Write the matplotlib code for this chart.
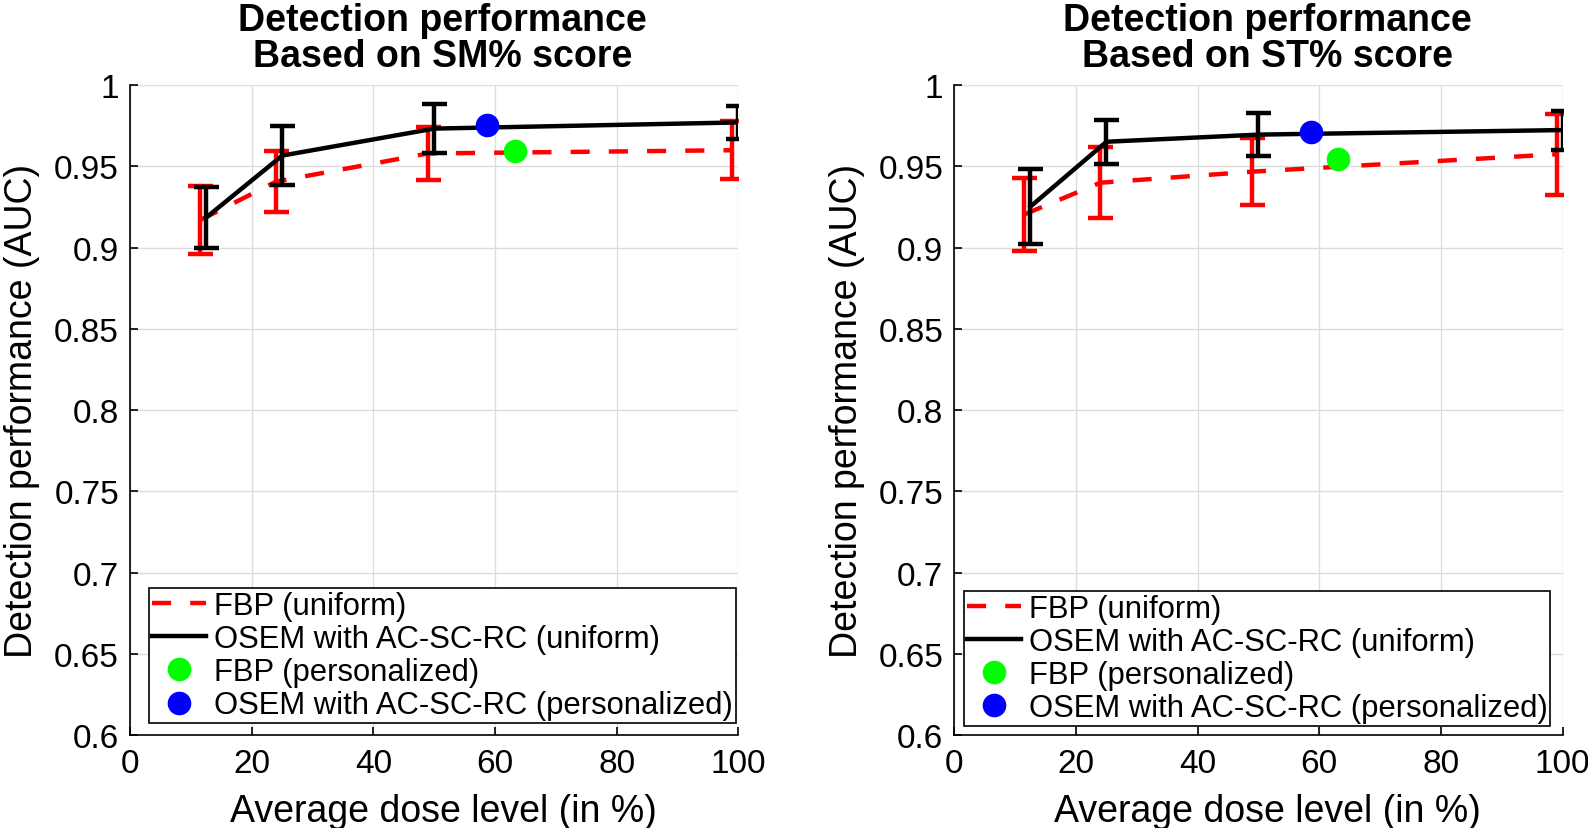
import numpy as np
import matplotlib
matplotlib.use("Agg")
import matplotlib.pyplot as plt
from matplotlib.lines import Line2D

plt.rcParams['font.family'] = ['Liberation Sans', 'DejaVu Sans']

# dose levels (red slightly shifted left, like the original)
x_fbp = [11.5, 24, 49, 99]
x_osem = [12.5, 25, 50, 100]

# left panel: SM% score
sm_fbp = [0.917, 0.9407, 0.958, 0.960]
sm_fbp_err = [0.021, 0.019, 0.0165, 0.018]
sm_osem = [0.9186, 0.9567, 0.9733, 0.9771]
sm_osem_err = [0.019, 0.018, 0.015, 0.010]
sm_pers_fbp = (63.2, 0.9598)
sm_pers_osem = (58.7, 0.9755)

# right panel: ST% score
st_fbp = [0.9205, 0.940, 0.9468, 0.9575]
st_fbp_err = [0.0225, 0.0218, 0.0207, 0.025]
st_osem = [0.9253, 0.9652, 0.9696, 0.9724]
st_osem_err = [0.023, 0.0136, 0.013, 0.012]
st_pers_fbp = (63.1, 0.9547)
st_pers_osem = (58.7, 0.9714)

titles = ["Detection performance\nBased on SM% score",
          "Detection performance\nBased on ST% score"]
labels = ["FBP (uniform)", "OSEM with AC-SC-RC (uniform)",
          "FBP (personalized)", "OSEM with AC-SC-RC (personalized)"]

fig = plt.figure(figsize=(15.88, 8.29), dpi=100)
ax1 = fig.add_axes([0.082, 0.112, 0.383, 0.784])
ax2 = fig.add_axes([0.601, 0.112, 0.383, 0.784])

panels = [(ax1, sm_fbp, sm_fbp_err, sm_osem, sm_osem_err, sm_pers_fbp, sm_pers_osem, titles[0], 0.031, 0.018),
          (ax2, st_fbp, st_fbp_err, st_osem, st_osem_err, st_pers_fbp, st_pers_osem, titles[1], 0.015, 0.014)]

for ax, fbp, fbp_e, osem, osem_e, pf, po, title, lx, ly in panels:
    ax.errorbar(x_fbp, fbp, yerr=fbp_e, color='red', lw=3.2, capsize=9, capthick=3.2,
                dashes=(4.3, 4.3), zorder=3)
    ax.errorbar(x_osem, osem, yerr=osem_e, color='black', lw=3.2, capsize=9, capthick=3.2, zorder=4)
    ax.plot(pf[0], pf[1], 'o', color=(0, 1, 0), ms=16, zorder=5)
    ax.plot(po[0], po[1], 'o', color=(0, 0, 1), ms=16, zorder=5)

    ax.set_xlim(0, 100)
    ax.set_ylim(0.6, 1)
    ax.set_xticks([0, 20, 40, 60, 80, 100])
    ax.set_yticks(np.arange(0.6, 1.001, 0.05))
    ax.set_yticklabels(["0.6", "0.65", "0.7", "0.75", "0.8", "0.85", "0.9", "0.95", "1"])
    ax.grid(True, color='#dcdcdc', lw=1)
    ax.set_axisbelow(True)
    ax.spines['top'].set_visible(False)
    ax.spines['right'].set_visible(False)
    ax.spines['left'].set_linewidth(1.2)
    ax.spines['bottom'].set_linewidth(1.2)
    ax.tick_params(direction='in', length=6, width=1.2, labelsize=24)
    ax.tick_params(axis='x', pad=9)
    ax.tick_params(axis='y', pad=8)
    ax.set_xlabel("Average dose level (in %)", fontsize=27, labelpad=10)
    ax.xaxis.label.set_x(0.515)
    ax.set_ylabel("Detection performance (AUC)", fontsize=27, labelpad=10)
    ax.set_title(title, fontsize=27, fontweight='bold', linespacing=1.0, pad=14)
    ax.title.set_x(0.514)

    handles = [Line2D([], [], color='red', lw=3.2, dashes=(4.3, 4.3)),
               Line2D([], [], color='black', lw=3.2),
               Line2D([], [], ls='none', marker='o', color=(0, 1, 0), ms=16),
               Line2D([], [], ls='none', marker='o', color=(0, 0, 1), ms=16)]
    leg = ax.legend(handles, labels, loc='lower left', bbox_to_anchor=(lx, ly),
                    fontsize=22.3, fancybox=False, edgecolor='black', framealpha=1,
                    handlelength=1.75, handletextpad=0.25, borderpad=0.1, labelspacing=0.1,
                    borderaxespad=0)
    leg.get_frame().set_linewidth(1.2)

fig.savefig("out.png", dpi=100)
